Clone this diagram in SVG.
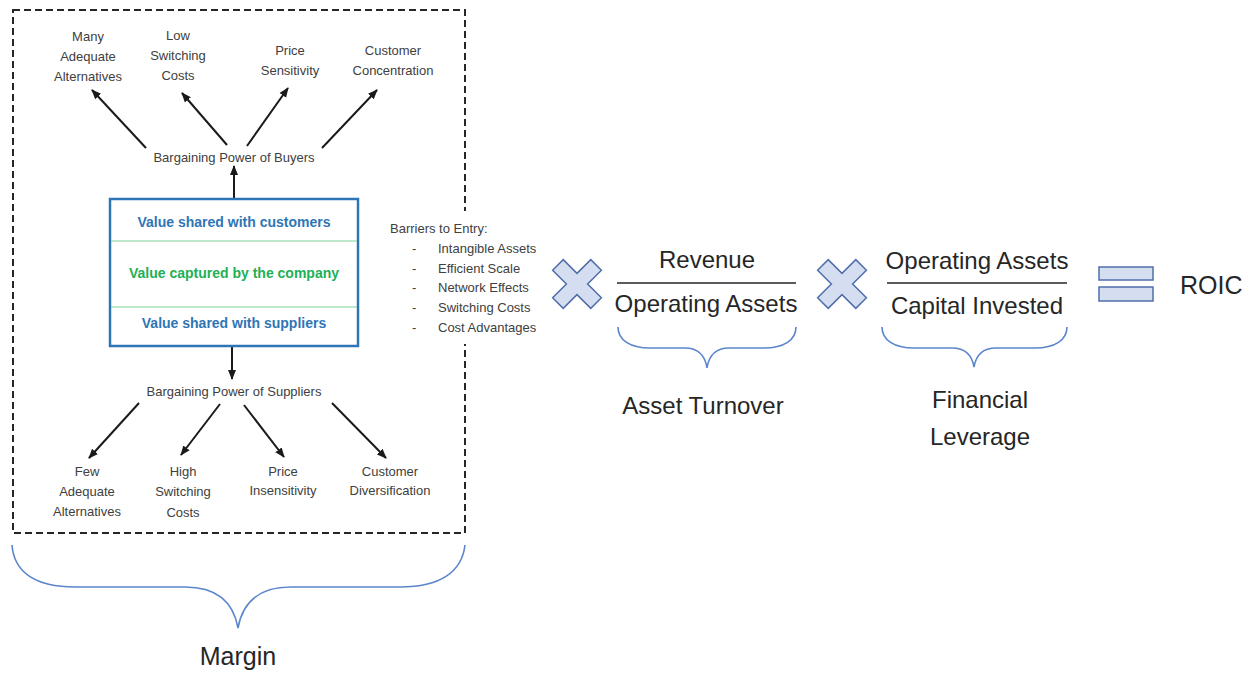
<svg xmlns="http://www.w3.org/2000/svg" width="1252" height="673" viewBox="0 0 1252 673">
<style>
  .sm { font-family: "Liberation Sans", Arial, sans-serif; font-size: 13px; fill: #404040; }
  .smc { text-anchor: middle; }
  .box { font-family: "Liberation Sans", Arial, sans-serif; font-size: 14px; font-weight: bold; text-anchor: middle; }
  .blue { fill: #2E75B6; }
  .green { fill: #1DB054; }
  .big { font-family: "Liberation Sans", Arial, sans-serif; font-size: 24px; fill: #262626; text-anchor: middle; }
  .arrow { stroke: #1a1a1a; stroke-width: 2; fill: none; marker-end: url(#ah); }
  .brace { stroke: #5B86CC; stroke-width: 1.6; fill: none; }
  .times { fill: #D5DEF0; stroke: #4F6FAA; stroke-width: 1.5; }
  .frac { stroke: #262626; stroke-width: 1.5; }
</style>
<defs>
  <marker id="ah" viewBox="0 0 10 10" refX="9" refY="5" markerWidth="10" markerHeight="10" markerUnits="userSpaceOnUse" orient="auto">
    <path d="M0,1 L10,5 L0,9 Z" fill="#1a1a1a"/>
  </marker>
</defs>
<rect width="1252" height="673" fill="#ffffff"/>

<g id="frame">
  <rect x="13" y="10" width="452" height="523" fill="none" stroke="#262626" stroke-width="2" stroke-dasharray="7 4"/>
</g>

<g id="connectors">
  <line class="arrow" x1="146" y1="148" x2="92" y2="90"/>
  <line class="arrow" x1="227" y1="145" x2="182" y2="93"/>
  <line class="arrow" x1="247" y1="146" x2="288" y2="88"/>
  <line class="arrow" x1="322" y1="148" x2="377" y2="90"/>
  <line class="arrow" x1="234" y1="198" x2="234" y2="166"/>
  <line class="arrow" x1="232" y1="347" x2="232" y2="379"/>
  <line class="arrow" x1="139" y1="403" x2="89" y2="458"/>
  <line class="arrow" x1="220" y1="404" x2="181" y2="455"/>
  <line class="arrow" x1="244" y1="405" x2="284" y2="457"/>
  <line class="arrow" x1="332" y1="403" x2="386" y2="458"/>
</g>

<g id="buyer-factors">
  <text class="sm smc" x="88" y="40.5">Many</text>
  <text class="sm smc" x="88" y="60.5">Adequate</text>
  <text class="sm smc" x="88" y="80.5">Alternatives</text>
  <text class="sm smc" x="178" y="39.5">Low</text>
  <text class="sm smc" x="178" y="59.5">Switching</text>
  <text class="sm smc" x="178" y="79.5">Costs</text>
  <text class="sm smc" x="290" y="54.5">Price</text>
  <text class="sm smc" x="290" y="74.5">Sensitivity</text>
  <text class="sm smc" x="393" y="54.5">Customer</text>
  <text class="sm smc" x="393" y="74.5">Concentration</text>
</g>

<g id="buyers">
  <text class="sm smc" x="234" y="161.5">Bargaining Power of Buyers</text>
</g>

<g id="value-box">
  <rect x="110" y="199" width="248" height="147" fill="#ffffff" stroke="#2E75B6" stroke-width="2.5"/>
  <line x1="111" y1="241" x2="357" y2="241" stroke="#7FCF9A" stroke-width="1.2"/>
  <line x1="111" y1="307" x2="357" y2="307" stroke="#7FCF9A" stroke-width="1.2"/>
  <text class="box blue" x="234" y="227">Value shared with customers</text>
  <text class="box green" x="234" y="278">Value captured by the company</text>
  <text class="box blue" x="234" y="328">Value shared with suppliers</text>
</g>

<g id="suppliers">
  <text class="sm smc" x="234" y="396">Bargaining Power of Suppliers</text>
</g>

<g id="supplier-factors">
  <text class="sm smc" x="87" y="475.5">Few</text>
  <text class="sm smc" x="87" y="495.5">Adequate</text>
  <text class="sm smc" x="87" y="515.5">Alternatives</text>
  <text class="sm smc" x="183" y="475.5">High</text>
  <text class="sm smc" x="183" y="496">Switching</text>
  <text class="sm smc" x="183" y="516.5">Costs</text>
  <text class="sm smc" x="283" y="475.5">Price</text>
  <text class="sm smc" x="283" y="495">Insensitivity</text>
  <text class="sm smc" x="390" y="475.5">Customer</text>
  <text class="sm smc" x="390" y="494.5">Diversification</text>
</g>

<g id="barriers">
  <rect x="386" y="211" width="158" height="133" fill="#ffffff"/>
  <text class="sm" x="390" y="232.5">Barriers to Entry:</text>
  <text class="sm" x="412" y="252.5">-</text>
  <text class="sm" x="438" y="252.5">Intangible Assets</text>
  <text class="sm" x="412" y="272.5">-</text>
  <text class="sm" x="438" y="272.5">Efficient Scale</text>
  <text class="sm" x="412" y="291.5">-</text>
  <text class="sm" x="438" y="291.5">Network Effects</text>
  <text class="sm" x="412" y="311.5">-</text>
  <text class="sm" x="438" y="311.5">Switching Costs</text>
  <text class="sm" x="412" y="331.5">-</text>
  <text class="sm" x="438" y="331.5">Cost Advantages</text>
</g>

<g id="margin">
  <path class="brace" d="M12,545 C14,572 35,587 75,587 L185,587 C215,587 233,600 238,628 C243,600 261,587 291,587 L400,587 C440,587 462,572 465,545"/>
  <text class="big" x="238" y="665" style="font-size:25px">Margin</text>
</g>

<g id="times1">
  <polygon class="times" transform="translate(577,284) rotate(45)" points="-7.5,-27 7.5,-27 7.5,-7.5 27,-7.5 27,7.5 7.5,7.5 7.5,27 -7.5,27 -7.5,7.5 -27,7.5 -27,-7.5 -7.5,-7.5"/>
</g>

<g id="asset-turnover">
  <text class="big" x="707" y="268">Revenue</text>
  <line class="frac" x1="617" y1="283" x2="796" y2="283"/>
  <text class="big" x="706" y="312">Operating Assets</text>
  <path class="brace" d="M618,327 C618,340 630,348 650,348 L685,348 C698,348 705,355 707,368 C709,355 716,348 729,348 L764,348 C784,348 796,340 796,327"/>
  <text class="big" x="703" y="414">Asset Turnover</text>
</g>

<g id="times2">
  <polygon class="times" transform="translate(842,284) rotate(45)" points="-7.5,-27 7.5,-27 7.5,-7.5 27,-7.5 27,7.5 7.5,7.5 7.5,27 -7.5,27 -7.5,7.5 -27,7.5 -27,-7.5 -7.5,-7.5"/>
</g>

<g id="financial-leverage">
  <text class="big" x="977" y="269">Operating Assets</text>
  <line class="frac" x1="887" y1="283" x2="1067" y2="283"/>
  <text class="big" x="977" y="314">Capital Invested</text>
  <path class="brace" d="M882,327 C882,340 894,348 914,348 L952,348 C965,348 972,355 974,367 C976,355 983,348 996,348 L1035,348 C1055,348 1067,340 1067,327"/>
  <text class="big" x="980" y="408">Financial</text>
  <text class="big" x="980" y="445">Leverage</text>
</g>

<g id="equals">
  <rect x="1099" y="267" width="54" height="13" fill="#D5DEF0" stroke="#4F6FAA" stroke-width="1.5"/>
  <rect x="1099" y="287" width="54" height="14" fill="#D5DEF0" stroke="#4F6FAA" stroke-width="1.5"/>
</g>

<g id="roic">
  <text class="big" x="1180" y="294" style="font-size:25px;text-anchor:start">ROIC</text>
</g>
</svg>
